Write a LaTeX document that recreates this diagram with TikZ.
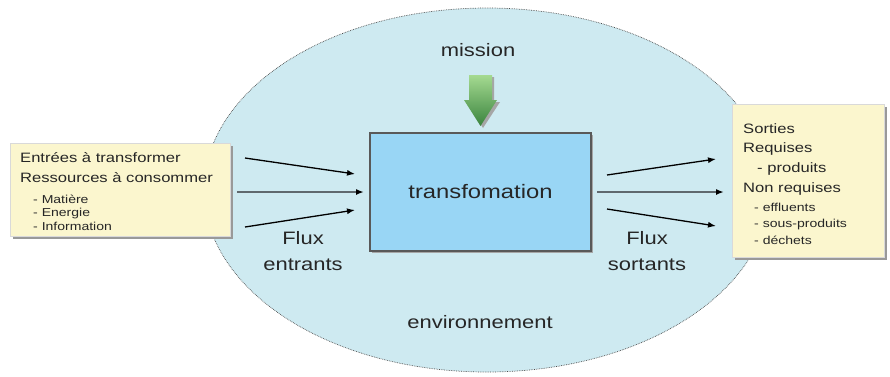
\documentclass[tikz,border=0pt]{standalone}
\usepackage{fontspec}
\setmainfont[FakeStretch=1.22]{Liberation Sans}
\usepackage{tikz}
\usetikzlibrary{arrows.meta}
\usetikzlibrary{shapes.geometric}
\usetikzlibrary{positioning, shadows, calc}
\definecolor{envblue}{RGB}{206,234,241}
\definecolor{boxblue}{RGB}{153,214,245}
\definecolor{noteyellow}{RGB}{251,246,206}
\definecolor{flowgray}{RGB}{95,105,110}
\definecolor{textgray}{RGB}{38,38,38}
\definecolor{greenlight}{RGB}{165,218,145}
\definecolor{greendark}{RGB}{58,132,62}

\tikzset{
    bigtext/.style={font=\fontsize{18}{26}\selectfont, text=textgray, align=center},
    midtext/.style={font=\fontsize{13.6}{16}\selectfont, text=textgray, anchor=base west, inner sep=0pt},
    smalltext/.style={font=\fontsize{11.5}{13}\selectfont, text=textgray, anchor=base west, inner sep=0pt},
    notebox/.style={draw=black!15, fill=noteyellow, inner sep=0pt,
        drop shadow={shadow xshift=3pt, shadow yshift=-3pt, fill=black!40, opacity=1}},
    flux/.style={-{Latex[length=8pt,width=6pt]}, line width=1.3pt, black},
    fluxmain/.style={-{Latex[length=8pt,width=6pt,color=black]}, line width=2.2pt, flowgray},
}

\begin{document}
\begin{tikzpicture}[x=1pt, y=-1pt]
    \useasboundingbox (0,0) rectangle (890,376);

    % ENVIRONMENT
    \node[ellipse, draw=black!70, densely dotted, line width=0.7pt, fill=envblue,
        minimum width=566pt, minimum height=364pt, inner sep=0pt] (env) at (487,190) {};

    % NOTE BOXES
    \node[notebox, minimum width=220pt, minimum height=93pt] (entrees) at (120,189.5) {};
    \node[notebox, minimum width=152pt, minimum height=153pt] (sorties) at (808,180.5) {};

    % PROCESS BOX
    \node[draw=black!65, line width=1.1pt, fill=boxblue, minimum width=221pt, minimum height=118pt,
        drop shadow={shadow xshift=2pt, shadow yshift=-2pt, fill=black!35, opacity=1},
        font=\fontsize{19.5}{22}\selectfont, text=textgray] (trans) at (480.5,192) {transfomation};

    \node[bigtext] (mission) at (478,50) {mission};
    \node[bigtext] (milieu) at (480,322) {environnement};
    \node[bigtext] (fluxin) at (303,251) {Flux\\entrants};
    \node[bigtext] (fluxout) at (647,251) {Flux\\sortants};

    % MISSION ARROW (shadow first)
    \fill[black!35] (471,77) -- (494,77) -- (494,102) -- (500,102) -- (483,128) -- (466,102) -- (471,102) -- cycle;
    \shade[top color=greenlight, bottom color=greendark]
        (469,75) -- (492,75) -- (492,100) -- (497,100) -- (480.5,126) -- (464,100) -- (469,100) -- cycle;

    % LEFT BOX TEXT
    \foreach \y/\m [count=\i] in {
        162/{Entrées à transformer},
        182/{Ressources à consommer}}
        \node[midtext] (inhead\i) at (20,\y) {\m};
    \foreach \y/\m [count=\i] in {
        203/{- Matière},
        216.5/{- Energie},
        230/{- Information}}
        \node[smalltext] (initem\i) at (33,\y) {\m};

    % RIGHT BOX TEXT
    \foreach \x/\y/\m [count=\i] in {
        743/133/{Sorties},
        743/152.5/{Requises},
        757/172/{- produits},
        743/192.5/{Non requises}}
        \node[midtext] (outhead\i) at (\x,\y) {\m};
    \foreach \y/\m [count=\i] in {
        211/{- effluents},
        227.5/{- sous-produits},
        244/{- déchets}}
        \node[smalltext] (outitem\i) at (754,\y) {\m};

    % FLUX ARROWS
    \foreach \xa/\ya/\xb/\yb [count=\i] in {
        245/158/355/174,
        245/227/355/210,
        607/175/716/159,
        607/209/716/226}
    {
        \coordinate (fs\i) at (\xa,\ya);
        \coordinate (fe\i) at (\xb,\yb);
        \draw[flux] (fs\i) -- (fe\i);
    }
    \coordinate (ms1) at (237,192);
    \coordinate (me1) at (364,192);
    \coordinate (ms2) at (597,192);
    \coordinate (me2) at (724,192);
    \draw[fluxmain] (ms1) -- (me1);
    \draw[fluxmain] (ms2) -- (me2);

\end{tikzpicture}
\end{document}
